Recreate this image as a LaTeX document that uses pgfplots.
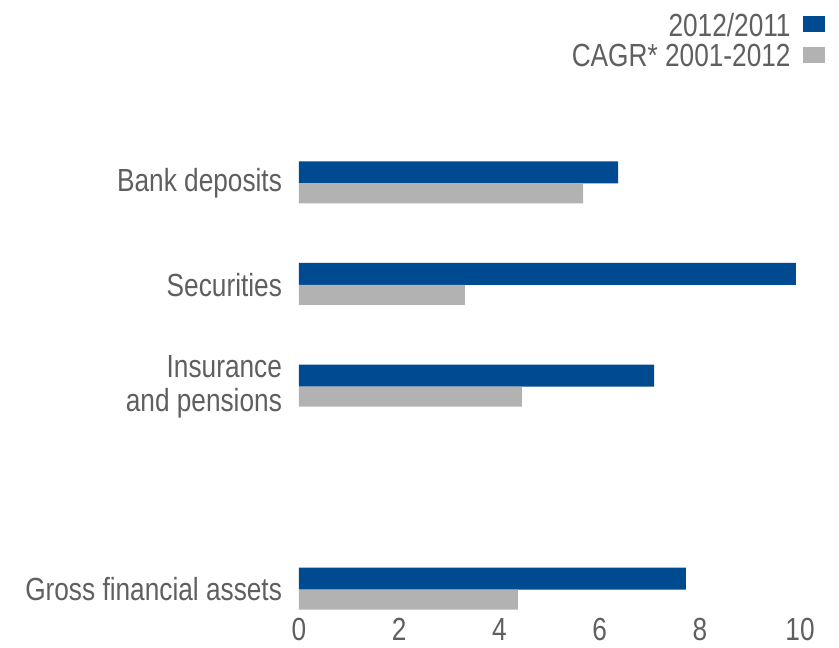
\documentclass[border=0pt]{standalone}
\usepackage{fontspec}
\setmainfont{Liberation Sans}[FakeStretch=0.82]
\usepackage{pgfplots}
\pgfplotsset{compat=1.18}
\definecolor{barblue}{RGB}{0,74,145}
\definecolor{bargray}{RGB}{178,178,178}
\definecolor{txtgray}{RGB}{95,95,95}
\pgfplotsset{
  sqlegend/.style={legend image code/.code={\fill[##1] (0pt,-3pt) rectangle (11pt,5pt);}},
}
\begin{document}
\begin{tikzpicture}
\begin{axis}[
    scale only axis,
    width=250.5pt, height=233.5pt,
    xmin=0, xmax=10, ymin=-0.3, ymax=4.3,
    xbar,
    axis line style={draw=none},
    major tick length=0pt,
    xtick={0,2,...,10},
    ytick={0,2,3,4},
    yticklabels={Gross financial assets, Insurance\\and pensions, Securities, Bank deposits},
    yticklabel style={align=right, font=\fontsize{16}{17}\selectfont, text=txtgray, xshift=-5pt},
    xticklabel style={font=\fontsize{16}{17}\selectfont, text=txtgray, yshift=4.5pt},
    /pgf/number format/assume math mode=true,
    legend style={
        at={(1,1)}, anchor=north east, xshift=12.5pt, yshift=71pt,
        draw=none, fill=none, inner sep=0pt, row sep=0.5pt, column sep=5pt,
        nodes={inner sep=1pt},
        font=\fontsize{16}{16}\selectfont, text=txtgray,
    },
    legend cell align=right,
    legend plot pos=right,
]

% 2012/2011
\addplot[fill=barblue, draw=none, bar width=11pt, bar shift=5.5pt, sqlegend] coordinates {
    (7.72,0) (7.09,2) (9.92,3) (6.37,4)
};

% CAGR 2001-2012
\addplot[fill=bargray, draw=none, bar width=10pt, bar shift=-5pt, sqlegend] coordinates {
    (4.37,0) (4.45,2) (3.31,3) (5.67,4)
};

\legend{2012/2011, CAGR* 2001-2012}
\end{axis}
\pgfresetboundingbox
\path ([xshift=-149.5pt,yshift=-13.5pt]current axis.south west) rectangle ([xshift=270pt,yshift=310pt]current axis.south west);
\end{tikzpicture}
\end{document}
